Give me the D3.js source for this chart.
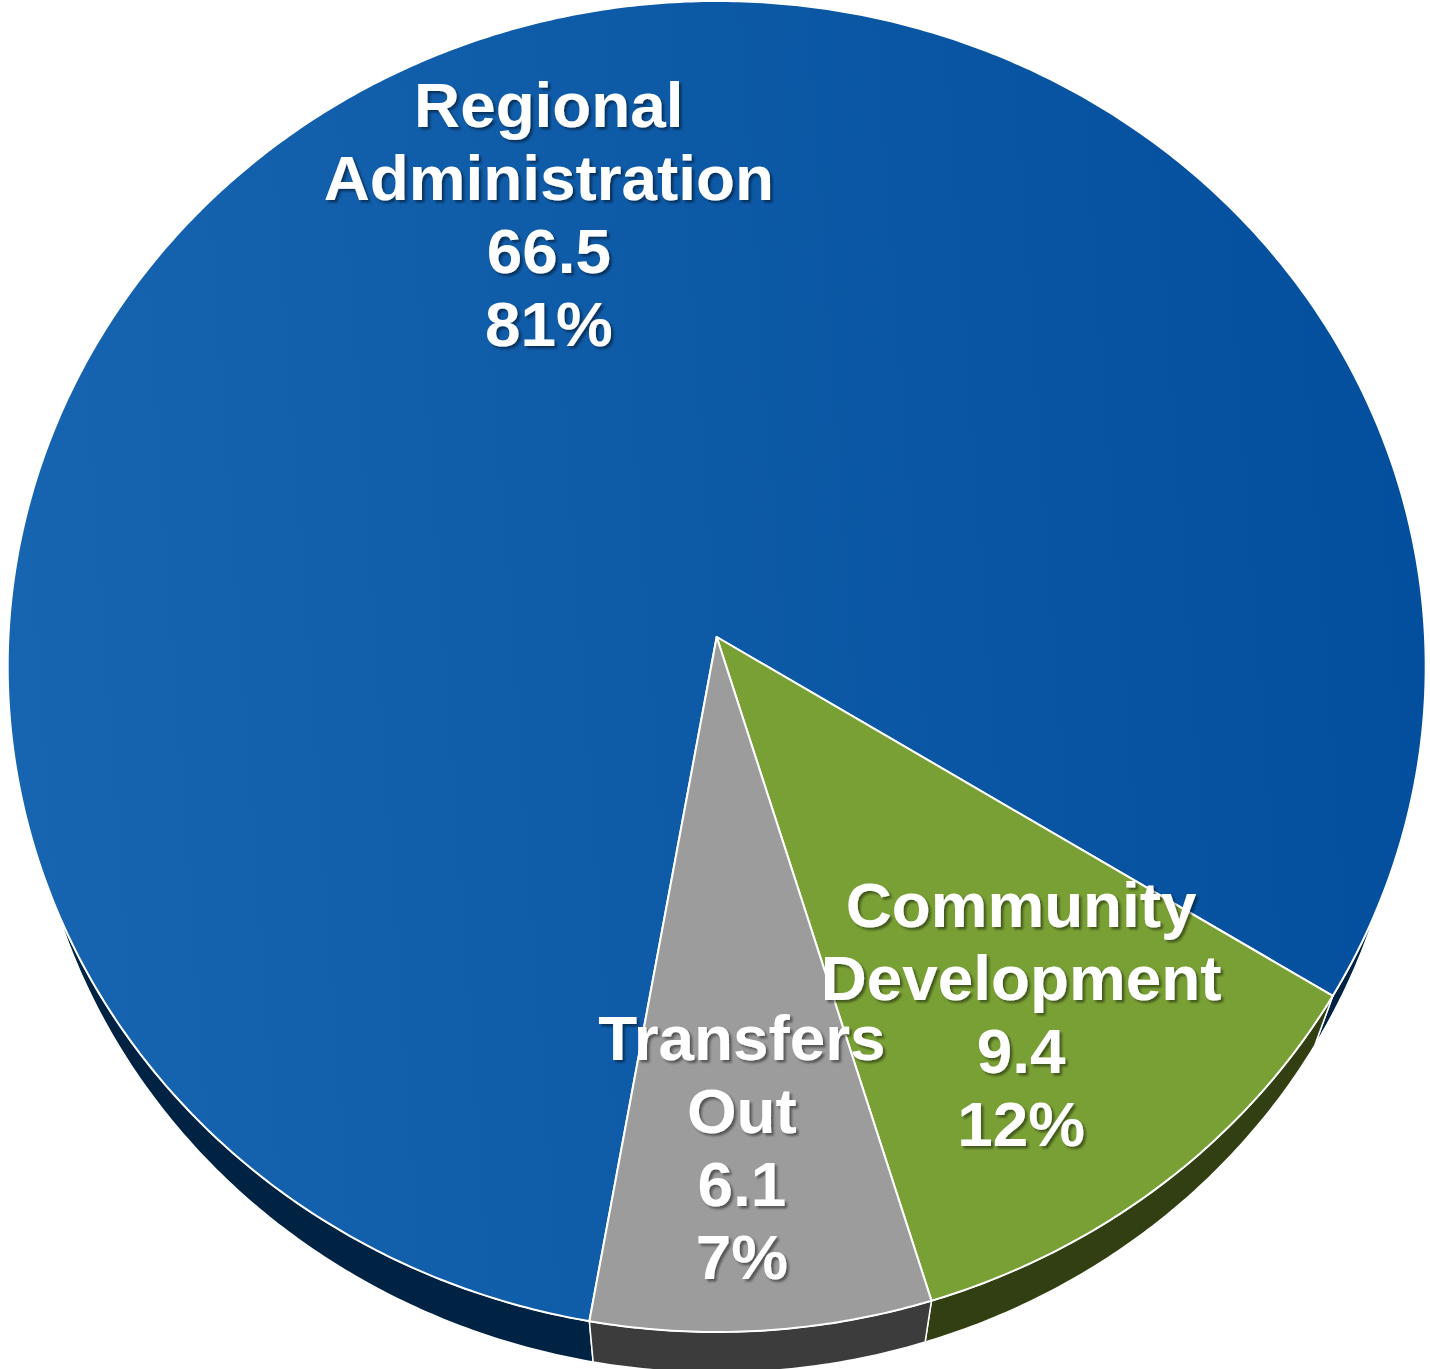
<!DOCTYPE html>
<html>
<head>
<meta charset="utf-8">
<script src="https://cdn.jsdelivr.net/npm/d3@7"></script>
<style>
  html, body { margin: 0; padding: 0; background: #ffffff; }
  svg { display: block; }
</style>
</head>
<body>
<div id="chart"></div>
<script>
// ---- data ----
const categories = ["Regional Administration", "Community Development", "Transfers Out"];
const labelLines = [["Regional", "Administration"], ["Community", "Development"], ["Transfers", "Out"]];
const values = [66.5, 9.4, 6.1];
const percentLabels = ["81%", "12%", "7%"];

// ---- styling / layout ----
const W = 1430, H = 1369;
const topColors = ["url(#blueTop)", "#79A035", "#9C9C9C"];
const sideColors = ["#002243", "#313F12", "#3C3C3C"];
const labelRadius = [0.699, 0.694, 0.743];
const labelShiftDeg = [3.7, 0.35, 0.84];
const fontSize = 63.8, lineH = 73, capH = 45.5;

// perspective camera for a unit pie lying in the z = 0 plane
const cx = 716.7, cy = 637;
const A = 708.3, B = 664.2, k = 0.0443;
const sinP = B / A, cosP = Math.sqrt(1 - sinP * sinP);
const D = cosP / k, F = A * D;
const thick = 0.245;

function project(angle, r, z) {
  const X = r * Math.sin(angle), Y = -r * Math.cos(angle);
  const d = D - Y * cosP - z * sinP;
  return [cx + F * X / d, cy + F * (Y * sinP - z * cosP) / d];
}

function arcPoints(a0, a1, z) {
  const n = Math.max(8, Math.ceil(Math.abs(a1 - a0) / (Math.PI / 360)));
  return d3.range(n + 1).map(i => project(a0 + (a1 - a0) * i / n, 1, z));
}

const svg = d3.select("#chart").append("svg")
  .attr("width", W).attr("height", H)
  .attr("viewBox", `0 0 ${W} ${H}`);

const defs = svg.append("defs");
const grad = defs.append("linearGradient")
  .attr("id", "blueTop")
  .attr("gradientUnits", "userSpaceOnUse")
  .attr("x1", 8).attr("y1", 700).attr("x2", 1425).attr("y2", 600);
grad.append("stop").attr("offset", 0).attr("stop-color", "#1764B0");
grad.append("stop").attr("offset", 1).attr("stop-color", "#034F9D");

const shadow = defs.append("filter").attr("id", "txtShadow")
  .attr("x", "-10%").attr("y", "-20%").attr("width", "130%").attr("height", "150%");
shadow.append("feDropShadow")
  .attr("dx", 2.5).attr("dy", 2.5).attr("stdDeviation", 1.3)
  .attr("flood-color", "#000").attr("flood-opacity", 0.45);

const pie = d3.pie().sort(null).value(d => d)
  .startAngle(189.9 * Math.PI / 180)
  .endAngle(189.9 * Math.PI / 180 + 2 * Math.PI);
const arcs = pie(values);
const line = d3.line();

// side walls
svg.append("g").selectAll("path")
  .data(arcs)
  .join("path")
  .attr("d", d => {
    const top = arcPoints(d.startAngle, d.endAngle, 0);
    const bottom = arcPoints(d.endAngle, d.startAngle, -thick);
    return line(top.concat(bottom)) + "Z";
  })
  .attr("fill", (d, i) => sideColors[i])
  .attr("stroke", "#ffffff")
  .attr("stroke-width", 1.5)
  .attr("stroke-linejoin", "round");

// top faces
svg.append("g").selectAll("path")
  .data(arcs)
  .join("path")
  .attr("d", d => line([[cx, cy]].concat(arcPoints(d.startAngle, d.endAngle, 0))) + "Z")
  .attr("fill", (d, i) => topColors[i])
  .attr("stroke", "#ffffff")
  .attr("stroke-width", 2)
  .attr("stroke-linejoin", "round");

// labels
const labels = svg.append("g")
  .attr("font-family", "'Liberation Sans', Arial, Helvetica, sans-serif")
  .attr("font-weight", "bold")
  .attr("font-size", fontSize)
  .attr("fill", "#ffffff")
  .attr("text-anchor", "middle")
  .attr("filter", "url(#txtShadow)");

arcs.forEach((d, i) => {
  const mid = (d.startAngle + d.endAngle) / 2 + labelShiftDeg[i] * Math.PI / 180;
  const [lx, ly] = project(mid, labelRadius[i], 0);
  const lines = labelLines[i].concat([d3.format(".1f")(values[i]), percentLabels[i]]);
  const y0 = ly - (lines.length - 1) / 2 * lineH + capH / 2;
  const t = labels.append("text").attr("x", lx).attr("y", y0);
  lines.forEach((s, j) => {
    t.append("tspan").attr("x", lx).attr("y", y0 + j * lineH).text(s);
  });
});
</script>
</body>
</html>
